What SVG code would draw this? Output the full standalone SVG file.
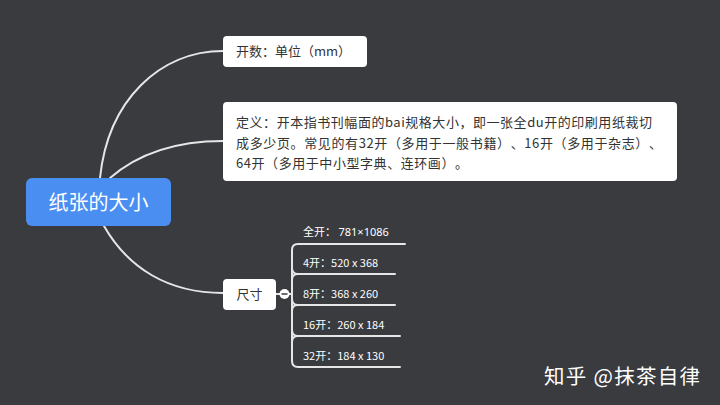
<svg xmlns="http://www.w3.org/2000/svg" width="720" height="405" viewBox="0 0 720 405">
<style>
.cjk{font-family:"Noto Sans CJK SC","Noto Sans",sans-serif;text-spacing-trim:space-all}
.line{fill:none;stroke:#e6e6e6;stroke-width:2;stroke-linecap:round}
.box{fill:#ffffff}
.dark{fill:#333333}
.leaf{fill:#ffffff;font-size:11px}
.num{font-family:"Noto Sans","Open Sans",sans-serif}
</style>
<rect width="720" height="405" fill="#393b3f"/>
<g id="connectors">
<path class="line" d="M100,178 C108,100 160,51 223,51"/>
<path class="line" d="M110,178 C140,152 180,141 223,141"/>
<path class="line" d="M104,226 C128,268 168,293 223,293"/>
<path class="line" d="M276,294 L280,294 M289,294 L292,294"/>
<path class="line" d="M405,244 L298,244 Q292,244 292,250 L292,361 Q292,367 298,367 L400,367"/>
<path class="line" d="M395,274 L298,274 Q292,274 292,280 M292,268 Q292,274 298,274"/>
<path class="line" d="M395,305 L298,305 Q292,305 292,311 M292,299 Q292,305 298,305"/>
<path class="line" d="M400,336 L298,336 Q292,336 292,342 M292,330 Q292,336 298,336"/>
</g>
<g id="root">
<rect x="26" y="178" width="145" height="48" rx="6" fill="#4a8ef2"/>
<text class="cjk" x="98.5" y="209.5" font-size="20" fill="#ffffff" text-anchor="middle">纸张的大小</text>
</g>
<g id="node-kaishu">
<rect class="box" x="223" y="36" width="144" height="31" rx="4"/>
<text class="cjk dark" x="236" y="56" font-size="13">开数：单位（mm）</text>
</g>
<g id="node-dingyi">
<rect class="box" x="223" y="102" width="454" height="79" rx="4"/>
<text class="cjk dark" font-size="13" x="236" y="126.5" textLength="416" lengthAdjust="spacing">定义：开本指书刊幅面的bai规格大小，即一张全du开的印刷用纸裁切</text>
<text class="cjk dark" font-size="13" x="236" y="147.5" textLength="426" lengthAdjust="spacing">成多少页。常见的有32开（多用于一般书籍）、16开（多用于杂志）、</text>
<text class="cjk dark" font-size="13" x="236" y="168" textLength="232" lengthAdjust="spacing">64开（多用于中小型字典、连环画）。</text>
</g>
<g id="node-chicun">
<rect class="box" x="223" y="279" width="53" height="31" rx="4"/>
<text class="cjk dark" x="249.5" y="299" font-size="13" text-anchor="middle">尺寸</text>
<circle cx="284.5" cy="294" r="5" fill="#ffffff"/>
<line x1="281.5" y1="294" x2="287.5" y2="294" stroke="#393b3f" stroke-width="1.5"/>
</g>
<g id="leaf-quankai"><text class="cjk leaf" x="303" y="236">全开： <tspan class="num">781×1086</tspan></text></g>
<g id="leaf-4"><text class="cjk leaf" x="303" y="267">4开：520 x 368</text></g>
<g id="leaf-8"><text class="cjk leaf" x="303" y="298">8开：368 x 260</text></g>
<g id="leaf-16"><text class="cjk leaf" x="303" y="329">16开：260 x 184</text></g>
<g id="leaf-32"><text class="cjk leaf" x="303" y="360">32开：184 x 130</text></g>
<text class="cjk" x="544" y="384" font-size="20.5" fill="#ffffff" textLength="156" lengthAdjust="spacing">知乎 @抹茶自律</text>
</svg>
